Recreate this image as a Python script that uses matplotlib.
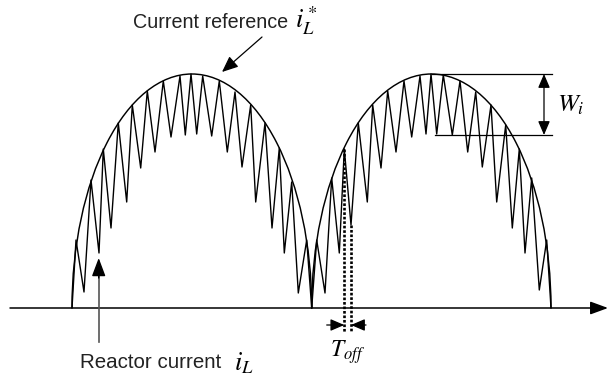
import matplotlib
matplotlib.use("Agg")
import matplotlib.pyplot as plt
from matplotlib.patches import Arc

plt.rcParams["font.family"] = ["Liberation Sans", "DejaVu Sans"]
plt.rcParams["mathtext.fontset"] = "stix"

# Reactor current turning points (time, current) over two half-cycles
hump1_t = [0, 4, 12, 19, 27, 31.3, 39, 46.3, 54.7, 60.3, 68.7, 75.3, 83, 91.3,
           99, 108, 113.3, 119, 124.7, 130.7, 139.7, 147.3, 155.3, 163, 170,
           178.7, 183.7, 193, 200, 207.3, 212.3, 219.7, 226.3, 234.7, 239.7]
hump1_i = [0, 68, 16, 128, 55, 159, 80, 185, 106, 203, 140, 217, 156, 227,
           171, 232, 173, 234, 174, 232, 172, 227, 156, 216, 141, 203, 106,
           185, 80, 160, 55, 126, 15, 68, 0]

hump2_t = [239.7, 244.7, 253, 259.7, 267.3, 272.3, 279, 286.3, 295.3, 300.7,
           309, 315.7, 324, 332, 339.7, 348, 354, 359, 364.7, 371.3, 380.3,
           388, 395.7, 403.7, 410.3, 419, 424.7, 433.7, 440.3, 447.3, 453,
           459.7, 467.3, 474.7, 479]
hump2_i = [0, 68, 15, 130, 55, 159, 83, 185, 106, 203, 140, 217, 156, 227,
           171, 232, 174, 234, 174, 233, 173, 227, 156, 216, 141, 203, 106,
           183, 80, 159, 55, 130, 18, 68, 0]

# Current reference envelope: half-cycle start/end times and peak value
ref_start = [0, 239.7]
ref_end = [239.7, 479]
ref_peak = 234

# Hysteresis band (upper / lower limits)
band_top = 234
band_low = 173

fig = plt.figure(figsize=(6.1, 3.78), dpi=100)
ax = fig.add_axes([0, 0, 1, 1])
ax.set_xlim(-72, 538)
ax.set_ylim(-70, 308)
ax.axis("off")

# Time axis
ax.annotate("", xy=(536, 0), xytext=(-62, 0),
            arrowprops=dict(arrowstyle="-|>,head_length=0.6,head_width=0.22",
                            mutation_scale=18, lw=1.1, color="black",
                            shrinkA=0, shrinkB=0))

# Reference envelopes
for s, e in zip(ref_start, ref_end):
    ax.add_patch(Arc(((s + e) / 2, 0), e - s, 2 * ref_peak, theta1=0,
                     theta2=180, lw=1.05, color="black"))

# Reactor current
ax.plot(hump1_t, hump1_i, color="black", lw=1.0)
ax.plot(hump2_t, hump2_i, color="black", lw=1.0)

# Hysteresis band width
ax.plot([359.7, 479.7], [band_top, band_top], color="black", lw=0.9)
ax.plot([363, 479.7], [band_low, band_low], color="black", lw=0.9)
ax.annotate("", xy=(472, band_top), xytext=(472, band_low),
            arrowprops=dict(arrowstyle="<|-|>,head_length=0.7,head_width=0.3",
                            mutation_scale=12, lw=0.9, color="black",
                            shrinkA=0, shrinkB=0))
ax.text(485, 203, "$W_i$", fontsize=18, va="center", ha="left")

# Off-time markers
k = 5
for t0, i0 in [(hump2_t[k], hump2_i[k]), (hump2_t[k + 1], hump2_i[k + 1])]:
    ax.plot([t0, t0], [i0, -24], color="black", lw=1.9,
            linestyle=(0, (1, 0.7)))
ax.annotate("", xy=(hump2_t[k], -17), xytext=(254.7, -17),
            arrowprops=dict(arrowstyle="-|>,head_length=0.7,head_width=0.3",
                            mutation_scale=12, lw=0.9, color="black",
                            shrinkA=0, shrinkB=0))
ax.annotate("", xy=(hump2_t[k + 1], -17), xytext=(294, -17),
            arrowprops=dict(arrowstyle="-|>,head_length=0.7,head_width=0.3",
                            mutation_scale=12, lw=0.9, color="black",
                            shrinkA=0, shrinkB=0))
ax.text(276, -44, "$T_{off}$", fontsize=17, va="center", ha="center")

# Labels with pointers
ax.annotate("", xy=(150, 236), xytext=(190, 271),
            arrowprops=dict(arrowstyle="-|>,head_length=0.7,head_width=0.3",
                            mutation_scale=14, lw=0.9, color="black",
                            shrinkA=0, shrinkB=0))
ax.text(61, 286, "Current reference", fontsize=14.2, va="center",
        ha="left", color="#222222")
ax.text(223, 287, "$i_L^*$", fontsize=19, va="center", ha="left")

ax.plot([26.7, 26.7], [-34, 36], color="#555555", lw=1.2, zorder=3)
ax.annotate("", xy=(26.7, 50), xytext=(26.7, 30),
            arrowprops=dict(arrowstyle="-|>,head_length=0.8,head_width=0.3",
                            mutation_scale=14, lw=1.0, color="black",
                            shrinkA=0, shrinkB=0))
ax.text(8, -55, "Reactor current", fontsize=14.8, va="center",
        ha="left", color="#222222")
ax.text(162, -55, "$i_L$", fontsize=19, va="center", ha="left")

fig.savefig("out.png", dpi=100)
